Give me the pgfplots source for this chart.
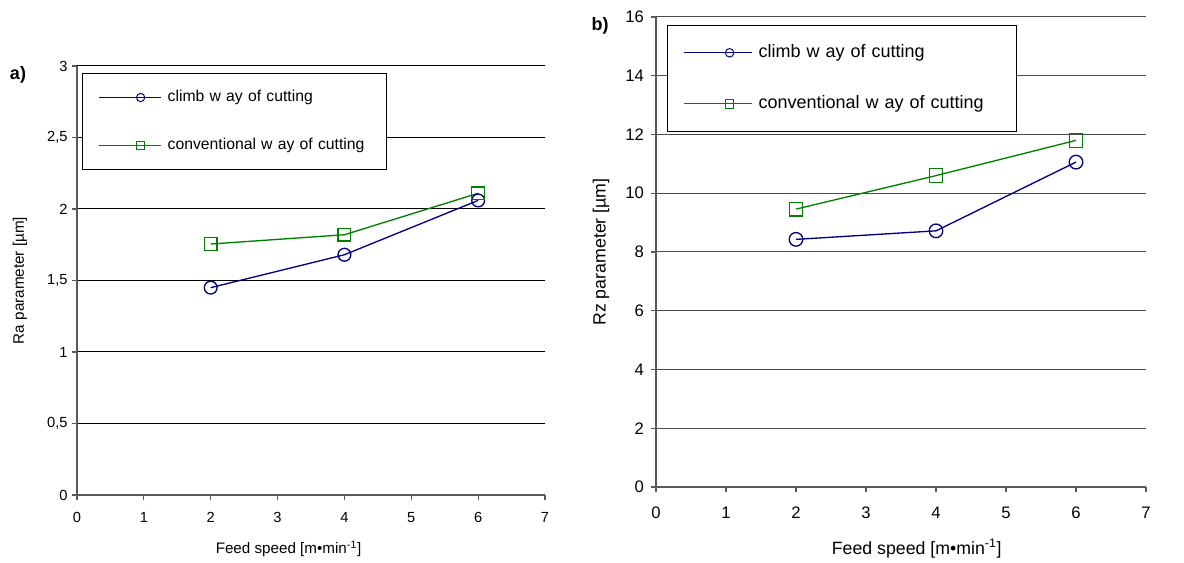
\documentclass[border=0pt]{standalone}
\usepackage{fontspec}
\setmainfont{Liberation Sans}
\usepackage{pgfplots}
\pgfplotsset{compat=1.18}

\definecolor{climb}{RGB}{0,0,128}
\definecolor{conv}{RGB}{0,128,0}

\pgfplotsset{
  excel/.style={
    scale only axis,
    xmin=0, xmax=7, xtick={0,...,7},
    axis x line*=bottom, axis y line*=left,
    axis line style={black!65, line width=0.8pt},
    tick align=outside, major tick length=3.5pt,
    tick style={black!65, line width=0.8pt},
    ymajorgrids,
    /pgf/number format/use comma,
    /pgf/number format/assume math mode=true,
    /pgf/number format/1000 sep={},
    legend cell align=left,
    clip=false,
  }
}

\begin{document}
\begin{tikzpicture}
\useasboundingbox (0,0) rectangle (888pt,422.25pt);

% ---- a) Ra
\begin{axis}[excel,
  at={(57.75pt,51pt)}, anchor=south west,
  width=351pt, height=321.75pt,
  ymin=0, ymax=3, ytick={0,0.5,...,3},
  grid style={black, line width=0.75pt},
  ticklabel style={font=\fontsize{11}{12}\selectfont},
  xticklabel style={yshift=-6pt},
  xlabel={Feed speed [m•min\textsuperscript{-1}]},
  ylabel={Ra parameter [µm]},
  label style={font=\fontsize{11.4}{13}\selectfont},
  xlabel style={at={(axis description cs:0.452,-0.126)}, anchor=center},
  ylabel style={at={(axis description cs:-0.122,0.5)}, rotate=0, anchor=center},
  legend style={at={(0.0107,0.9837)}, anchor=north west, draw=black,
    line width=0.75pt, fill=white, inner xsep=12pt, inner ysep=12pt,
    row sep=24pt, column sep=4.5pt,
    nodes={inner sep=0pt, text height=9pt, text depth=3pt,
      font=\fontsize{11.8}{14}\selectfont},
    /tikz/every even column/.append style={text width=152pt, align=left}},
  legend image code/.code={
    \path (0pt,0pt) -- (15.75pt,0pt);
    \draw[mark repeat=2, mark phase=2, #1, mark size=3.1pt, line width=0.75pt]
      plot coordinates {(15.75pt,0pt) (31.1pt,0pt) (46.5pt,0pt)};
  },
]
\addplot[climb, line width=1pt, mark=o, mark size=4.8pt]
  coordinates {(2,1.45) (4,1.68) (6,2.06)};
\addlegendentry{climb w ay of cutting}
\addplot[conv, line width=1pt, mark=square, mark size=4.8pt]
  coordinates {(2,1.755) (4,1.82) (6,2.11)};
\addlegendentry{conventional w ay of cutting}
\end{axis}

% ---- b) Rz
\begin{axis}[excel,
  at={(492pt,57pt)}, anchor=south west,
  width=367.5pt, height=352.5pt,
  ymin=0, ymax=16, ytick={0,2,...,16},
  grid style={black!70, line width=0.75pt},
  ticklabel style={font=\fontsize{12.5}{14}\selectfont},
  xticklabel style={yshift=-8pt},
  yticklabel style={xshift=-2pt},
  xlabel={Feed speed [m•min\textsuperscript{-1}]},
  ylabel={Rz parameter [µm]},
  label style={font=\fontsize{13.3}{15}\selectfont},
  xlabel style={at={(axis description cs:0.532,-0.13)}, anchor=center},
  ylabel style={at={(axis description cs:-0.112,0.5)}, rotate=0, anchor=center},
  legend style={at={(0.0224,0.983)}, anchor=north west, draw=black,
    line width=0.75pt, fill=white, inner xsep=12pt, inner ysep=14pt,
    row sep=25.25pt, column sep=4.5pt,
    nodes={inner sep=0pt, text height=10pt, text depth=3pt,
      font=\fontsize{13.5}{15}\selectfont},
    /tikz/every even column/.append style={text width=181.5pt, align=left}},
  legend image code/.code={
    \path (0pt,0pt) -- (17.25pt,0pt);
    \draw[mark repeat=2, mark phase=2, #1, mark size=3.2pt, line width=0.75pt]
      plot coordinates {(17.25pt,0pt) (34.1pt,0pt) (51pt,0pt)};
  },
]
\addplot[climb, line width=1pt, mark=o, mark size=5.1pt]
  coordinates {(2,8.43) (4,8.72) (6,11.06)};
\addlegendentry{climb w ay of cutting}
\addplot[conv, line width=1pt, mark=square, mark size=5.1pt]
  coordinates {(2,9.46) (4,10.6) (6,11.8)};
\addlegendentry{conventional w ay of cutting}
\end{axis}

\node[font=\bfseries\fontsize{13.5}{15}\selectfont] at (13.5pt,366pt) {a)};
\node[font=\bfseries\fontsize{13.5}{15}\selectfont] at (450pt,402.75pt) {b)};
\end{tikzpicture}
\end{document}
